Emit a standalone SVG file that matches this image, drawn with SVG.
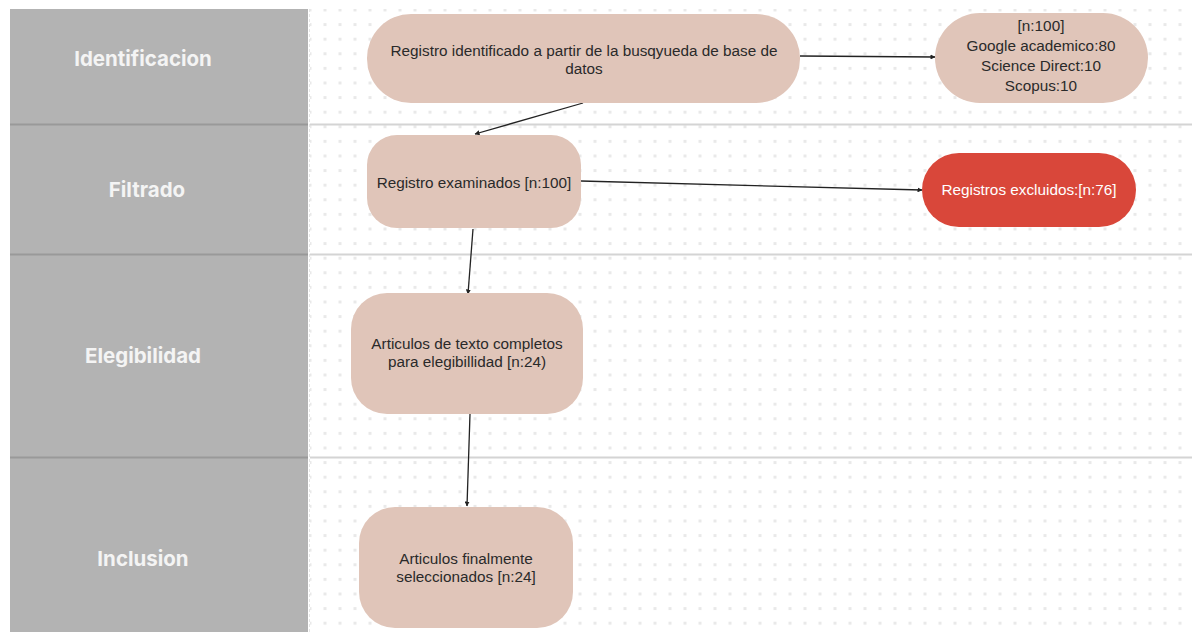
<svg xmlns="http://www.w3.org/2000/svg" width="1192" height="632" viewBox="0 0 1192 632">
<defs>
<pattern id="dots" x="323.5" y="8.5" width="15" height="14.6" patternUnits="userSpaceOnUse">
<rect x="0" y="0" width="3" height="3" fill="#e9e9e9"/>
</pattern>
<marker id="arr" viewBox="0 0 10 10" refX="9" refY="5" markerWidth="5" markerHeight="5" orient="auto-start-reverse" markerUnits="userSpaceOnUse">
<path d="M0,0 L10,5 L0,10 z" fill="#222"/>
</marker>
<style>
.lane{font-family:Inter,"Liberation Sans",sans-serif;font-weight:700;font-size:20.5px;fill:#f4f4f4;text-anchor:middle}
.node{fill:#e0c5b9}
.t{font-family:"Liberation Sans",Arial,sans-serif;font-size:15.3px;fill:#2a2a2a;text-anchor:middle}
.tw{font-family:"Liberation Sans",Arial,sans-serif;font-size:15.3px;fill:#ffffff;text-anchor:middle}
.conn{stroke:#222;stroke-width:1.3;fill:none;marker-end:url(#arr)}
</style>
</defs>
<rect width="1192" height="632" fill="#ffffff"/>
<rect x="310" y="9" width="882" height="623" fill="url(#dots)"/>
<g id="lanes">
<rect x="10" y="9" width="298" height="623" fill="#b3b3b3"/>
<line x1="309.5" y1="9" x2="309.5" y2="632" stroke="#e4e4e4" stroke-width="1" stroke-dasharray="3,2"/>
<line x1="10" y1="124.5" x2="308" y2="124.5" stroke="#999" stroke-width="2"/>
<line x1="10" y1="254.5" x2="308" y2="254.5" stroke="#999" stroke-width="2"/>
<line x1="10" y1="457.5" x2="308" y2="457.5" stroke="#999" stroke-width="2"/>
<line x1="310" y1="124.5" x2="1192" y2="124.5" stroke="#d4d4d4" stroke-width="2"/>
<line x1="310" y1="254.5" x2="1192" y2="254.5" stroke="#d4d4d4" stroke-width="2"/>
<line x1="310" y1="457.5" x2="1192" y2="457.5" stroke="#d4d4d4" stroke-width="2"/>
<text class="lane" x="143" y="66">Identificacion</text>
<text class="lane" x="147" y="197">Filtrado</text>
<text class="lane" x="143" y="363">Elegibilidad</text>
<text class="lane" x="143" y="566">Inclusion</text>
</g>
<g id="connectors">
<line class="conn" x1="583" y1="103" x2="475" y2="134"/>
<line class="conn" x1="800" y1="56" x2="935" y2="57"/>
<line class="conn" x1="581" y1="181" x2="922" y2="190"/>
<line class="conn" x1="473" y1="229" x2="468" y2="294"/>
<line class="conn" x1="470" y1="414" x2="467" y2="506"/>
</g>
<g id="n1">
<rect class="node" x="367" y="14" width="433" height="89" rx="44"/>
<text class="t" x="584" y="56">Registro identificado a partir de la busqyueda de base de</text>
<text class="t" x="584" y="73.5">datos</text>
</g>
<g id="n2">
<rect class="node" x="935" y="13" width="213" height="90" rx="45"/>
<text class="t" x="1041" y="31">[n:100]</text>
<text class="t" x="1041" y="51">Google academico:80</text>
<text class="t" x="1041" y="71">Science Direct:10</text>
<text class="t" x="1041" y="91">Scopus:10</text>
</g>
<g id="n3">
<rect class="node" x="367" y="135" width="214" height="93" rx="30"/>
<text class="t" x="474" y="188">Registro examinados [n:100]</text>
</g>
<g id="n4">
<rect x="922" y="153" width="214" height="74" rx="37" fill="#d9473a"/>
<text class="tw" x="1029" y="195">Registros excluidos:[n:76]</text>
</g>
<g id="n5">
<rect class="node" x="351" y="293" width="232" height="121" rx="36"/>
<text class="t" x="467" y="349">Articulos de texto completos</text>
<text class="t" x="467" y="366.5">para elegibillidad [n:24)</text>
</g>
<g id="n6">
<rect class="node" x="359" y="507" width="214" height="121" rx="36"/>
<text class="t" x="466" y="564">Articulos finalmente</text>
<text class="t" x="466" y="581.5">seleccionados [n:24]</text>
</g>
</svg>
